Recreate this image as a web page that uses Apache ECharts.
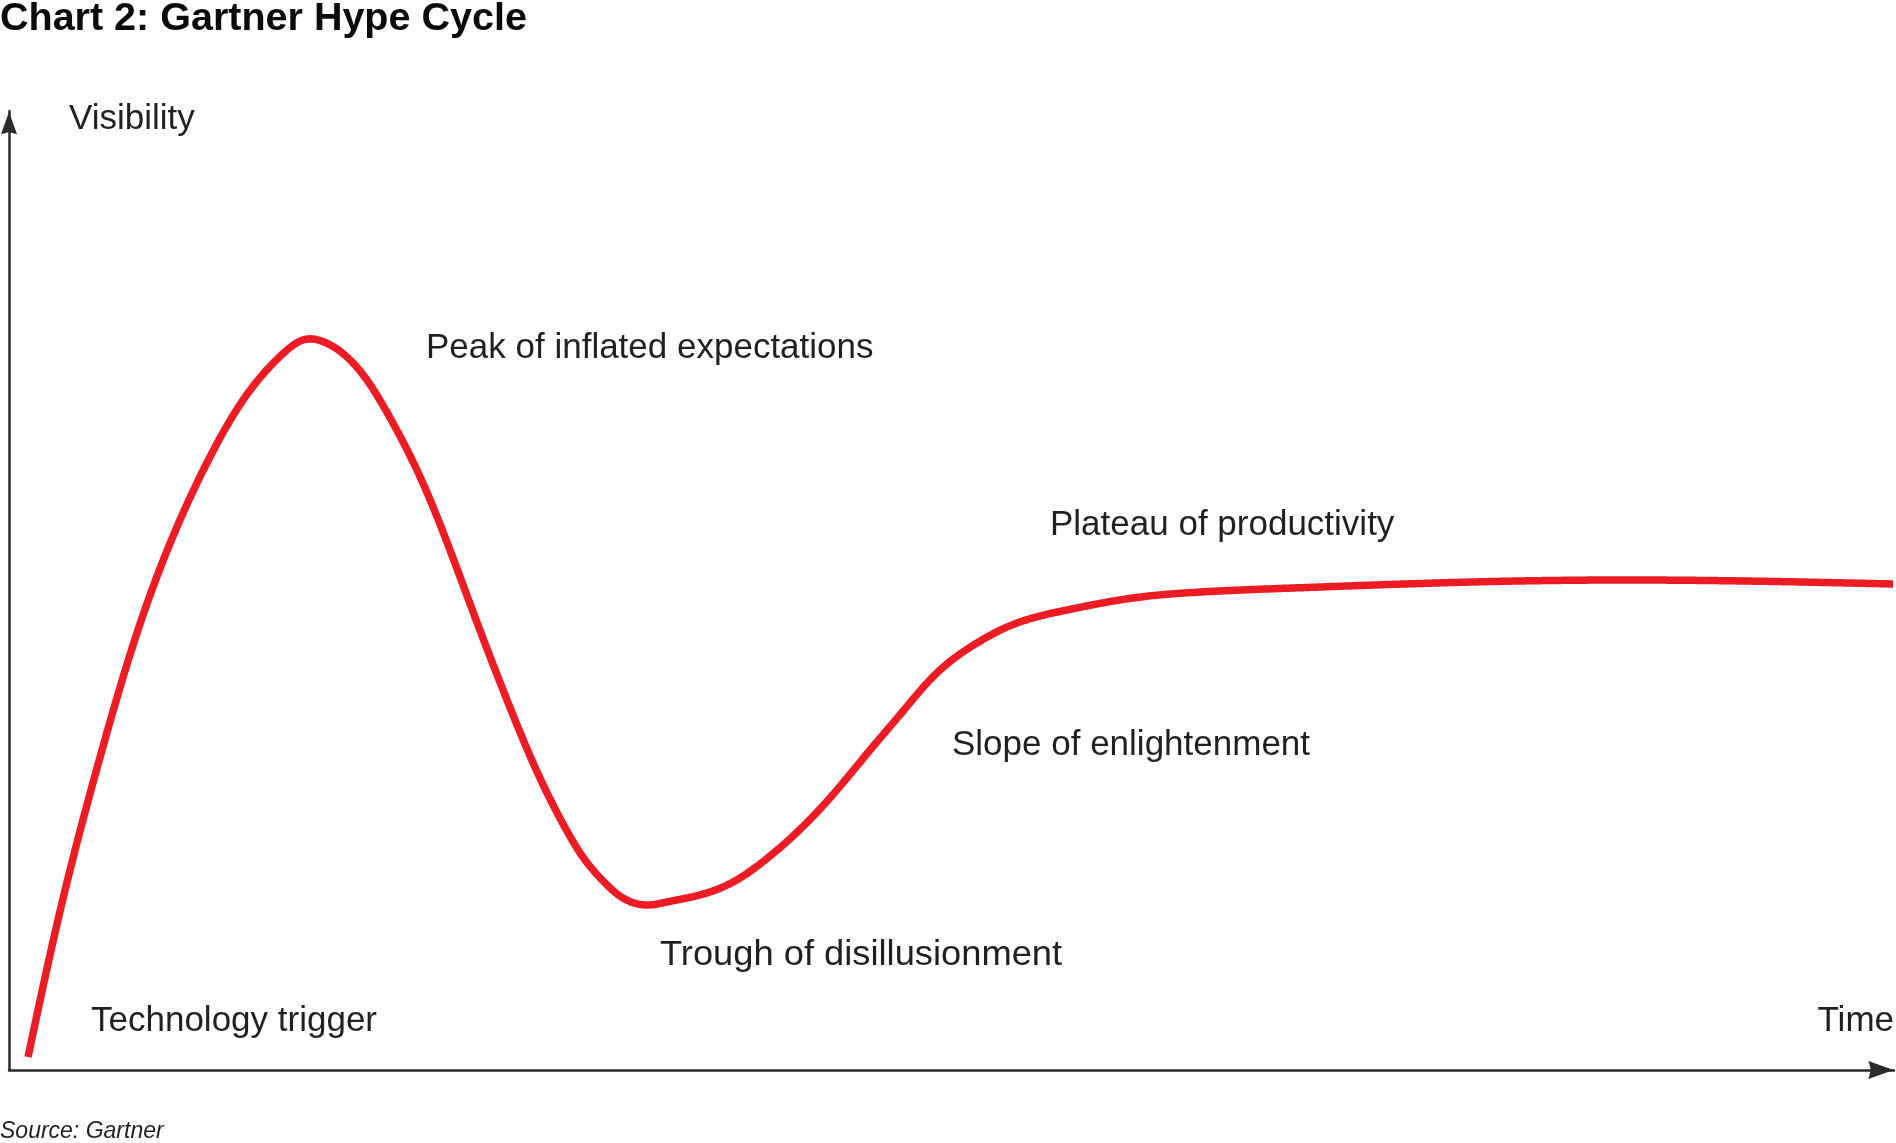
<!DOCTYPE html>
<html>
<head>
<meta charset="utf-8">
<script src="https://cdn.jsdelivr.net/npm/echarts@6/dist/echarts.min.js"></script>
<style>
html, body { margin: 0; padding: 0; background: #ffffff; }
#chart { width: 1896px; height: 1143px; }
</style>
</head>
<body>
<div id="chart"></div>
<script>
// Hype curve (time 0..100, visibility 0..100)
const timeValues = [1.01, 2.81, 5.04, 7.37, 9.07, 10.77, 12.68, 14.54, 15.86, 16.87,
  17.93, 18.99, 19.89, 21.64, 23.13, 24.72, 26.42, 27.90, 29.66, 30.56,
  31.62, 32.57, 33.74, 34.91, 36.66, 38.41, 39.84, 43.55, 45.68, 47.48,
  49.39, 51.35, 53.47, 56.13, 59.63, 63.18, 68.12, 75.65, 84.51, 92.10,
  99.95];
const visibilityValues = [1.36, 17.41, 34.10, 48.90, 57.35, 64.34, 70.59, 74.71, 76.23, 75.78,
  74.35, 71.95, 69.13, 62.57, 55.58, 47.24, 38.58, 31.60, 24.71, 21.90,
  19.50, 17.94, 17.21, 17.52, 18.25, 19.60, 21.48, 28.36, 33.37, 37.54,
  41.71, 44.53, 46.61, 47.97, 49.22, 49.84, 50.26, 50.78, 51.09, 50.99,
  50.68];

const titleText = 'Chart 2: Gartner Hype Cycle';
const yAxisName = 'Visibility';
const xAxisName = 'Time';
const phaseLabels = ['Technology trigger', 'Peak of inflated expectations', 'Trough of disillusionment', 'Slope of enlightenment', 'Plateau of productivity'];
const sourceText = 'Source: Gartner';

const curveData = timeValues.map((t, i) => [t, visibilityValues[i]]);

const FONT = '"Liberation Sans", Arial, Helvetica, sans-serif';
const TXT = '#231f20';
const AXIS = '#2b2b2b';

// natural cubic spline helper (draws a smooth stroke through the mapped data points)
function naturalSpline(ts, vs) {
  const n = ts.length;
  const h = [], alpha = [], l = [], mu = [], z = [], c = [], b = [], d = [];
  for (let i = 0; i < n - 1; i++) h[i] = ts[i + 1] - ts[i];
  for (let i = 1; i < n - 1; i++) alpha[i] = 3 / h[i] * (vs[i + 1] - vs[i]) - 3 / h[i - 1] * (vs[i] - vs[i - 1]);
  l[0] = 1; mu[0] = 0; z[0] = 0;
  for (let i = 1; i < n - 1; i++) {
    l[i] = 2 * (ts[i + 1] - ts[i - 1]) - h[i - 1] * mu[i - 1];
    mu[i] = h[i] / l[i];
    z[i] = (alpha[i] - h[i - 1] * z[i - 1]) / l[i];
  }
  l[n - 1] = 1; z[n - 1] = 0; c[n - 1] = 0;
  for (let j = n - 2; j >= 0; j--) {
    c[j] = z[j] - mu[j] * c[j + 1];
    b[j] = (vs[j + 1] - vs[j]) / h[j] - h[j] * (c[j + 1] + 2 * c[j]) / 3;
    d[j] = (c[j + 1] - c[j]) / (3 * h[j]);
  }
  return (i, dt) => vs[i] + b[i] * dt + c[i] * dt * dt + d[i] * dt * dt * dt;
}
function splinePoints(P) {
  const n = P.length;
  const t = [0];
  for (let i = 1; i < n; i++) {
    const dx = P[i][0] - P[i - 1][0], dy = P[i][1] - P[i - 1][1];
    t.push(t[i - 1] + Math.sqrt(dx * dx + dy * dy));
  }
  const sx = naturalSpline(t, P.map(p => p[0]));
  const sy = naturalSpline(t, P.map(p => p[1]));
  const out = [];
  for (let i = 0; i < n - 1; i++) {
    const h = t[i + 1] - t[i];
    const steps = Math.max(6, Math.ceil(h / 2));
    for (let k = 0; k < steps; k++) {
      const dt = h * k / steps;
      out.push([sx(i, dt), sy(i, dt)]);
    }
  }
  out.push(P[n - 1]);
  return out;
}

function label(text, x, y, opts) {
  return Object.assign({
    type: 'text',
    x: x, y: y,
    style: { text: text, fill: TXT, font: '35px ' + FONT, textAlign: 'left', textVerticalAlign: 'middle' }
  }, opts || {});
}

const chart = echarts.init(document.getElementById('chart'), null, { renderer: 'canvas' });
const arrowSym = 'path://M5 0 L10 14 L5 12.6 L0 14 Z';

chart.setOption({
  animation: false,
  backgroundColor: '#ffffff',
  grid: { left: 9, right: 2, top: 111, bottom: 73, containLabel: false },
  xAxis: {
    type: 'value', min: 0, max: 100,
    axisLine: { show: true, onZero: false, symbol: ['none', arrowSym], symbolSize: [18, 26], symbolOffset: [0, -13], lineStyle: { color: AXIS, width: 2.5 } },
    axisTick: { show: false }, axisLabel: { show: false }, splitLine: { show: false }
  },
  yAxis: {
    type: 'value', min: 0, max: 100,
    axisLine: { show: true, onZero: false, symbol: ['none', arrowSym], symbolSize: [16, 24], symbolOffset: [0, -12], lineStyle: { color: AXIS, width: 2.5 } },
    axisTick: { show: false }, axisLabel: { show: false }, splitLine: { show: false }
  },
  series: [{
    type: 'custom',
    coordinateSystem: 'cartesian2d',
    data: curveData,
    encode: { x: 0, y: 1 },
    clip: false,
    silent: true,
    renderItem: function (params, api) {
      if (params.dataIndex !== 0) return null;
      const mapped = curveData.map(d => api.coord(d));
      return {
        type: 'polyline',
        shape: { points: splinePoints(mapped) },
        style: { stroke: '#ed1c24', lineWidth: 7.5, fill: 'none', lineJoin: 'round', lineCap: 'butt' }
      };
    }
  }],
  graphic: [
    { type: 'text', x: 0, y: 19, style: { text: titleText, fill: '#0a0a0a', font: 'bold 39.5px ' + FONT, textAlign: 'left', textVerticalAlign: 'middle' } },
    label(yAxisName, 69, 119),
    label(phaseLabels[1], 426, 348),
    label(phaseLabels[4], 1050, 525),
    label(phaseLabels[3], 952, 745),
    label(phaseLabels[2], 660, 955, { scaleX: 1.037 }),
    label(phaseLabels[0], 91, 1021),
    { type: 'text', x: 1894, y: 1021, style: { text: xAxisName, fill: TXT, font: '35px ' + FONT, textAlign: 'right', textVerticalAlign: 'middle' } },
    { type: 'text', x: 0, y: 1132, style: { text: sourceText, fill: TXT, font: 'italic 23px ' + FONT, textAlign: 'left', textVerticalAlign: 'middle' } }
  ]
});
</script>
</body>
</html>
